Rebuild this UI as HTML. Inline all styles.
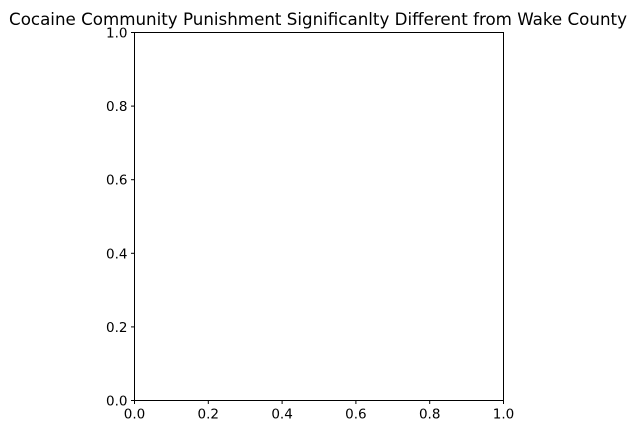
<!DOCTYPE html>
<html><head><meta charset="utf-8"><style>
html,body{margin:0;padding:0;background:#fff;}
svg{display:block;font-family:"DejaVu Sans","Liberation Sans",sans-serif;}
</style></head><body>
<svg id="chart" width="637" height="435" viewBox="0 0 637 435">
<text x="318" y="25" text-anchor="middle" font-size="16.7" fill="#000">Cocaine Community Punishment Significanlty Different from Wake County</text>
<g id="axes"></g>
</svg>
<script>
const xTicks=[0.0,0.2,0.4,0.6,0.8,1.0];
const yTicks=[0.0,0.2,0.4,0.6,0.8,1.0];
const xTickLabels=["0.0","0.2","0.4","0.6","0.8","1.0"];
const yTickLabels=["0.0","0.2","0.4","0.6","0.8","1.0"];
const L=134.5,R=503.5,T=32.5,B=400.5;
const sx=v=>L+(R-L)*v, sy=v=>B-(B-T)*v;
const g=document.getElementById('axes');
const NS='http://www.w3.org/2000/svg';
function mk(t,a){const e=document.createElementNS(NS,t);for(const k in a)e.setAttribute(k,a[k]);g.appendChild(e);return e;}
const frame=mk('rect',{x:L,y:T,width:R-L,height:B-T,fill:'none',stroke:'#000','stroke-width':1});


xTicks.forEach((v,i)=>{
  const t=mk('line',{x1:sx(v),x2:sx(v),y1:B,y2:B+3.5,stroke:'#000'});
  
  
  const l=mk('text',{x:sx(v),y:B+18,'text-anchor':'middle','font-size':'13.5',fill:'#000'});
  l.textContent=xTickLabels[i];
  
  
});
yTicks.forEach((v,i)=>{
  const t=mk('line',{x1:L-3.5,x2:L,y1:sy(v),y2:sy(v),stroke:'#000'});
  
  
  const l=mk('text',{x:L-7,y:sy(v)+5,'text-anchor':'end','font-size':'13.5',fill:'#000'});
  l.textContent=yTickLabels[i];
  
  
});
</script>
</body></html>
